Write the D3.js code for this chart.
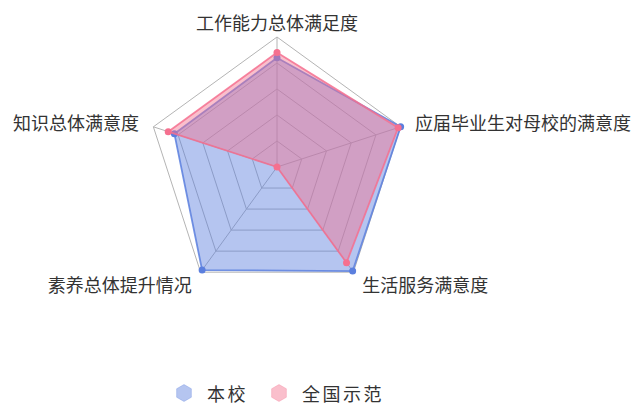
<!DOCTYPE html>
<html>
<head>
<meta charset="utf-8">
<script src="https://cdn.jsdelivr.net/npm/d3@7"></script>
<style>
  body { margin: 0; background: #fff; }
  svg { display: block; font-family: "Noto Sans CJK SC", "Noto Sans", sans-serif; }
</style>
</head>
<body>
<div id="radar"></div>
<script>
// indicators, listed counter-clockwise starting from the top
const indicators = ["工作能力总体满足度", "知识总体满意度", "素养总体提升情况", "生活服务满意度", "应届毕业生对母校的满意度"];
const seriesNames = ["本校", "全国示范"];
const schoolValues = [84, 83, 98, 99, 100];
const nationalValues = [88, 88, 0, 91, 98];
const maxValue = 100;
const splitNumber = 5;

const width = 633, height = 406;
const cx = 277, cy = 167, radius = 130;
const colours = ["#5b7fde", "#f5708f"];

const svg = d3.select("#radar")
    .append("svg")
    .attr("width", width)
    .attr("height", height);

const chart = svg.append("g")
    .attr("transform", `translate(${cx},${cy})`);

// =============================
// scales
// =============================
const rScale = d3.scaleLinear()
    .domain([0, maxValue])
    .range([0, radius]);

const angleScale = d3.scaleLinear()
    .domain([0, indicators.length])
    .range([0, -2 * Math.PI]); // counter-clockwise like echarts

const point = (i, r) => {
    const a = angleScale(i);
    return [r * Math.sin(a), -r * Math.cos(a)];
};

// =============================
// split rings + axis lines
// =============================
const ringLevels = d3.range(1, splitNumber + 1).map(k => maxValue * k / splitNumber);

const ringLine = d3.lineRadial()
    .angle((d, i) => angleScale(i))
    .radius(d => d)
    .curve(d3.curveLinearClosed);

chart.selectAll(".ring")
    .data(ringLevels)
    .join("path")
        .attr("class", "ring")
        .attr("d", lvl => ringLine(indicators.map(() => rScale(lvl))))
        .attr("fill", "none")
        .attr("stroke", "#b4b4b4")
        .attr("stroke-width", 1);

chart.selectAll(".axis-line")
    .data(indicators)
    .join("line")
        .attr("class", "axis-line")
        .attr("x1", 0)
        .attr("y1", 0)
        .attr("x2", (d, i) => point(i, rScale(maxValue))[0])
        .attr("y2", (d, i) => point(i, rScale(maxValue))[1])
        .attr("stroke", "#b4b4b4")
        .attr("stroke-width", 1);

// =============================
// series
// =============================
const series = [schoolValues, nationalValues];

series.forEach((vals, s) => {
    const g = chart.append("g");
    g.append("path")
        .attr("d", ringLine(vals.map(v => rScale(v))))
        .attr("fill", colours[s])
        .attr("fill-opacity", 0.45)
        .attr("stroke", colours[s])
        .attr("stroke-opacity", 0.85)
        .attr("stroke-width", 1.8)
        .attr("stroke-linejoin", "round");

    g.selectAll("circle")
        .data(vals)
        .join("circle")
            .attr("cx", (d, i) => point(i, rScale(d))[0])
            .attr("cy", (d, i) => point(i, rScale(d))[1])
            .attr("r", 3.5)
            .attr("fill", colours[s]);
});

// =============================
// indicator names
// =============================
chart.selectAll(".name")
    .data(indicators)
    .join("text")
        .attr("class", "name")
        .text(d => d)
        .attr("x", (d, i) => point(i, radius + 15)[0])
        .attr("y", (d, i) => point(i, radius + 15)[1])
        .attr("text-anchor", (d, i) => {
            const x = point(i, 1)[0];
            return Math.abs(x) < 0.01 ? "middle" : (x < 0 ? "end" : "start");
        })
        .attr("dominant-baseline", "central")
        .attr("font-size", 18)
        .attr("fill", "#333");

// =============================
// legend
// =============================
const hexagon = (r) => d3.range(6).map(k => {
    const a = Math.PI / 3 * k;
    return [r * Math.sin(a), -r * Math.cos(a)];
});

const legendX = [184, 279];
const legend = svg.selectAll(".legend")
    .data(seriesNames)
    .join("g")
        .attr("class", "legend")
        .attr("transform", (d, i) => `translate(${legendX[i]},393)`);

legend.append("path")
    .attr("d", d3.line().curve(d3.curveLinearClosed)(hexagon(8.5)))
    .attr("fill", (d, i) => colours[i])
    .attr("fill-opacity", 0.45)
    .attr("stroke", (d, i) => colours[i])
    .attr("stroke-opacity", 0.3)
    .attr("stroke-linejoin", "round");

legend.append("text")
    .text(d => d)
    .attr("x", 23)
    .attr("y", 0)
    .attr("dominant-baseline", "central")
    .attr("font-size", 18)
    .attr("letter-spacing", 2.5)
    .attr("fill", "#333");
</script>
</body>
</html>
